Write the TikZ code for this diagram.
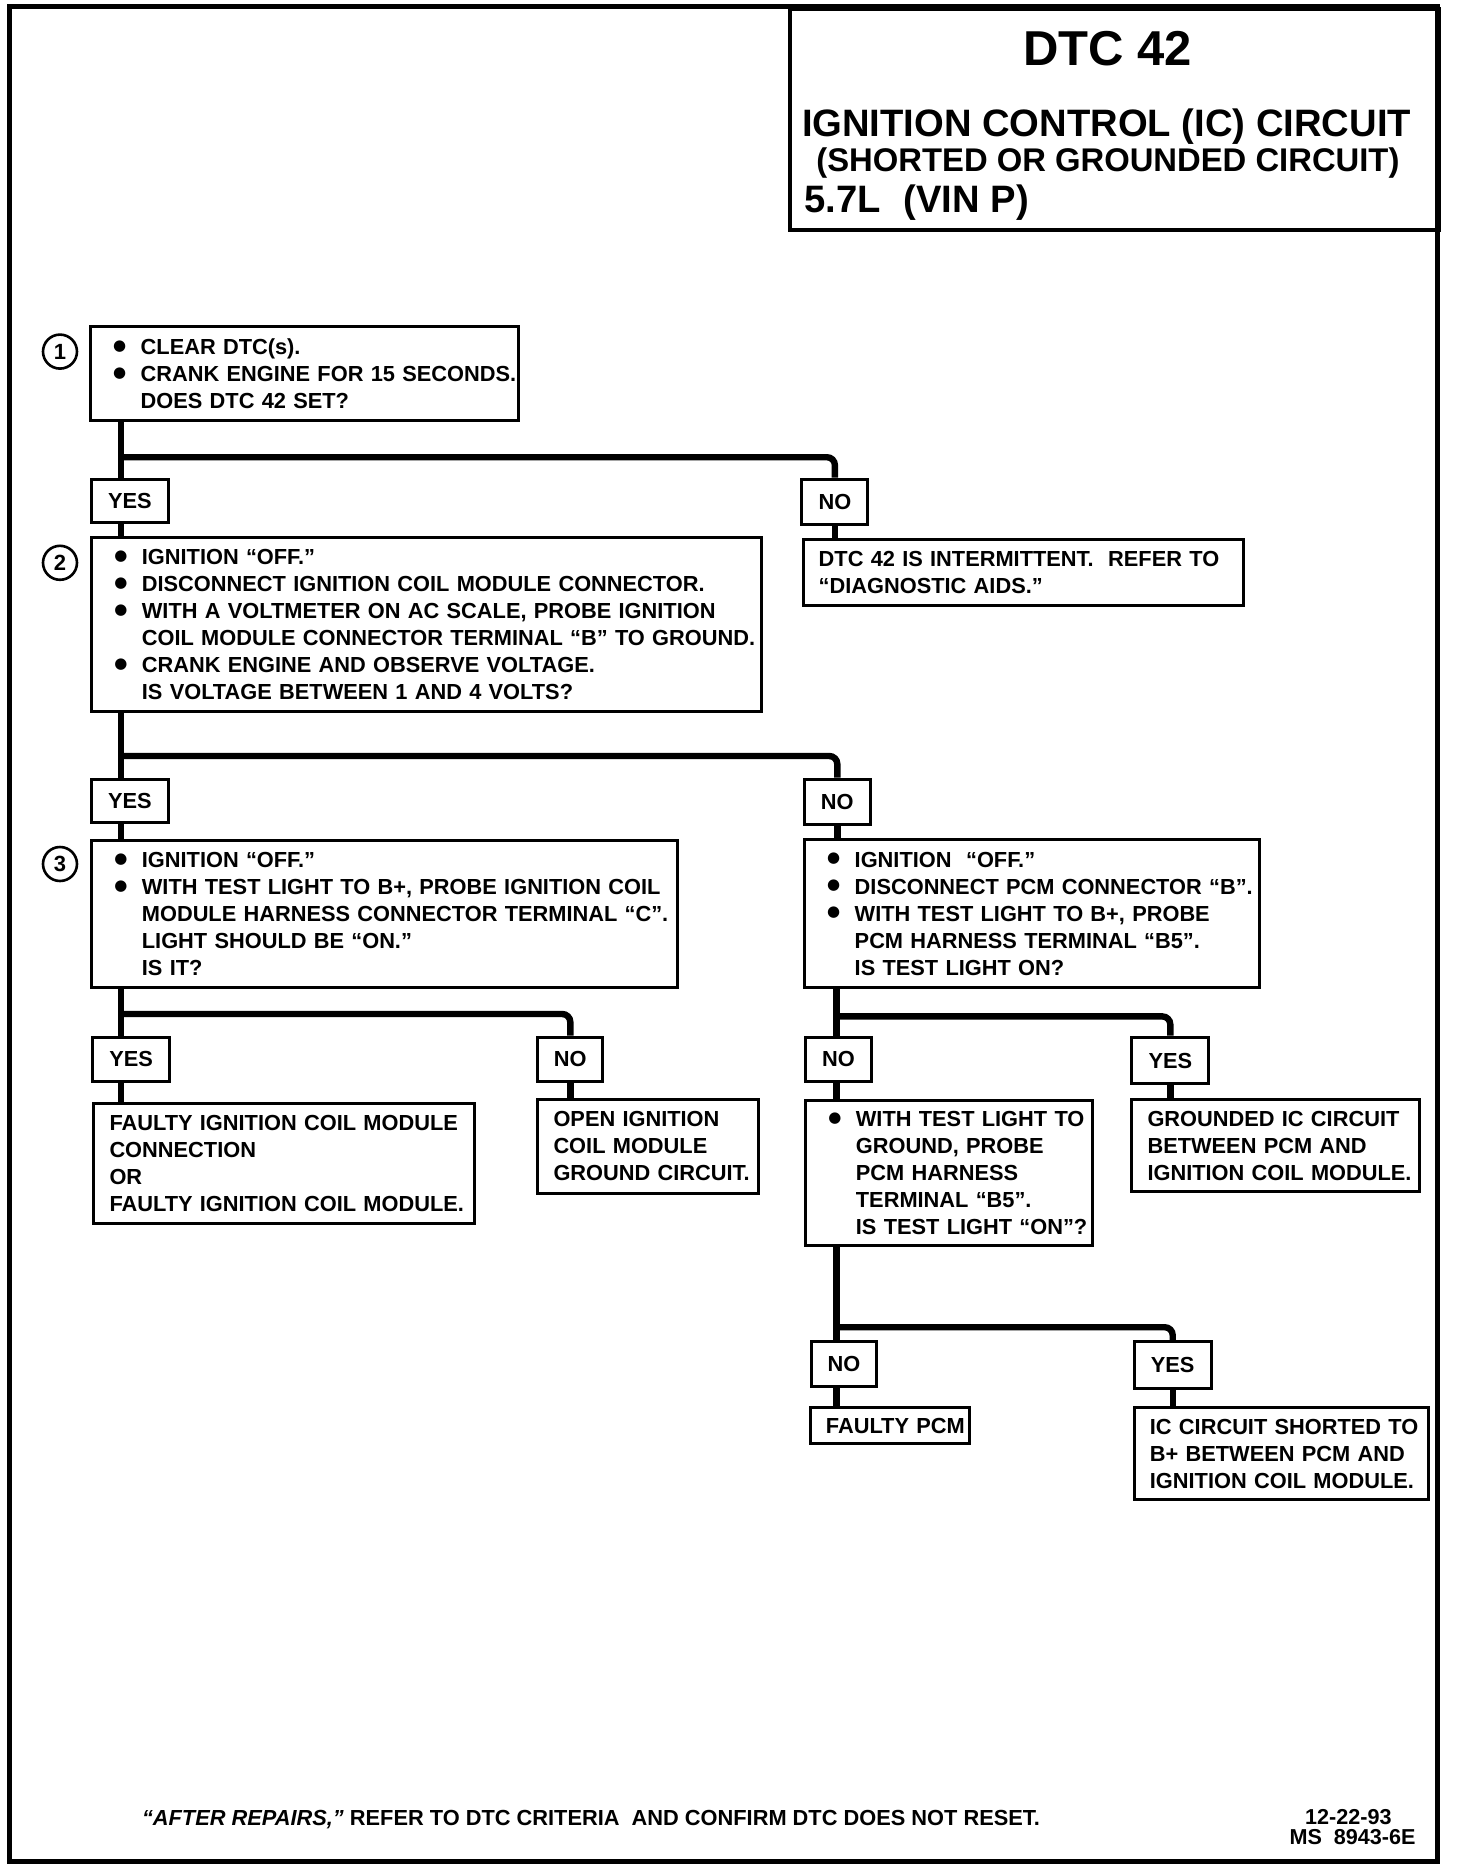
\documentclass[tikz,border=0pt]{standalone}
\usepackage{fontspec}
\setmainfont{Liberation Sans}
\newfontfamily\dejavu{DejaVu Sans}
\newcommand\boxfont{\fontsize{10.9pt}{13.5pt}\selectfont\bfseries}
\newcommand\bul{\makebox[13.8pt][l]{\raisebox{0.35ex}{\dejavu\fontsize{7.5pt}{7.5pt}\selectfont ●}}}
\newcommand\ind{\hspace*{13.8pt}}
\newcommand\bxb[1]{\leftskip=11.4pt\relax #1\par}
\newcommand\bxr[1]{\leftskip=7.8pt\relax #1\par}
\begin{document}
\begin{tikzpicture}[x=0.6pt,y=-0.6pt,
  box/.style={draw, line width=1.5pt, anchor=north west, inner xsep=0pt, inner ysep=0pt, align=left, font=\boxfont},
  lab/.style={draw, line width=1.5pt, anchor=north west, inner sep=0pt, font=\boxfont},
  conn/.style={line width=3.2pt, rounded corners=4pt},
  num/.style={circle, draw, line width=1.3pt, minimum size=17pt, inner sep=0pt, font=\fontsize{11pt}{11pt}\selectfont\bfseries},
  ttl/.style={inner sep=0pt}]
\useasboundingbox (0,0) rectangle (1213.33,1560);

% header
\node[draw, line width=1.8pt, anchor=north west, minimum width=324.3pt, minimum height=110.4pt, inner sep=0pt] (hdr) at (657,6) {};
\node[ttl, anchor=base, font=\fontsize{24.5pt}{24.5pt}\selectfont\bfseries] (t1) at (923,55) {DTC 42};
\node[ttl, anchor=base west, font=\fontsize{19.1pt}{19.1pt}\selectfont\bfseries] (t2) at (668,114) {IGNITION CONTROL (IC) CIRCUIT};
\node[ttl, anchor=base west, font=\fontsize{16.4pt}{16.4pt}\selectfont\bfseries] (t3) at (680,143) {(SHORTED OR GROUNDED CIRCUIT)};
\node[ttl, anchor=base west, font=\fontsize{19.1pt}{19.1pt}\selectfont\bfseries] (t4) at (670,177) {5.7L\hspace{0.6em}(VIN P)};

% step numbers
\node[num] (c1) at (50,293) {1};
\node[num] (c2) at (50,469) {2};
\node[num] (c3) at (50,720) {3};

% boxes
\node[box, text width=214.2pt, minimum height=46.8pt] (B1) at (74,271)
  {\bxb{\bul CLEAR DTC(s).\\\bul CRANK ENGINE FOR 15 SECONDS.\\\ind DOES DTC 42 SET?}};
\node[lab, minimum width=38.4pt, minimum height=21.6pt] (Y1) at (75,398) {YES};
\node[lab, minimum width=33pt, minimum height=22.8pt] (N1) at (667,398) {NO};
\node[box, text width=334.8pt, minimum height=87pt] (B2) at (75,447)
  {\bxb{\bul IGNITION “OFF.”\\\bul DISCONNECT IGNITION COIL MODULE CONNECTOR.\\\bul WITH A VOLTMETER ON AC SCALE, PROBE IGNITION\\\ind COIL MODULE CONNECTOR TERMINAL “B” TO GROUND.\\\bul CRANK ENGINE AND OBSERVE VOLTAGE.\\\ind IS VOLTAGE BETWEEN 1 AND 4 VOLTS?}};
\node[box, text width=220.2pt, minimum height=33pt] (R1) at (668,448)
  {\bxr{DTC 42 IS INTERMITTENT.\ \ REFER TO\\“DIAGNOSTIC AIDS.”}};
\node[lab, minimum width=38.4pt, minimum height=21.6pt] (Y2) at (75,648) {YES};
\node[lab, minimum width=33pt, minimum height=22.8pt] (N2) at (669,648) {NO};
\node[box, text width=292.8pt, minimum height=73.8pt] (B3) at (75,699)
  {\bxb{\bul IGNITION “OFF.”\\\bul WITH TEST LIGHT TO B+, PROBE IGNITION COIL\\\ind MODULE HARNESS CONNECTOR TERMINAL “C”.\\\ind LIGHT SHOULD BE “ON.”\\\ind IS IT?}};
\node[box, text width=227.4pt, minimum height=74.4pt] (B4) at (669,698)
  {\bxb{\bul IGNITION\ \ “OFF.”\\\bul DISCONNECT PCM CONNECTOR “B”.\\\bul WITH TEST LIGHT TO B+, PROBE\\\ind PCM HARNESS TERMINAL “B5”.\\\ind IS TEST LIGHT ON?}};
\node[lab, minimum width=38.4pt, minimum height=22.2pt] (Y3) at (76,863) {YES};
\node[lab, minimum width=32.4pt, minimum height=22.2pt] (N3) at (447,863) {NO};
\node[box, text width=190.2pt, minimum height=60pt] (R2) at (77,918)
  {\bxr{FAULTY IGNITION COIL MODULE\\CONNECTION\\OR\\FAULTY IGNITION COIL MODULE.}};
\node[box, text width=110.4pt, minimum height=46.8pt] (R3) at (447,915)
  {\bxr{OPEN IGNITION\\COIL MODULE\\GROUND CIRCUIT.}};
\node[lab, minimum width=33pt, minimum height=22.2pt] (N4) at (670,863) {NO};
\node[lab, minimum width=38.4pt, minimum height=23.4pt] (Y4) at (942,863) {YES};
\node[box, text width=143.4pt, minimum height=72.6pt] (B5) at (670,916)
  {\bxb{\bul WITH TEST LIGHT TO\\\ind GROUND, PROBE\\\ind PCM HARNESS\\\ind TERMINAL “B5”.\\\ind IS TEST LIGHT “ON”?}};
\node[box, text width=144pt, minimum height=46.2pt] (R4) at (942,915)
  {\bxr{GROUNDED IC CIRCUIT\\BETWEEN PCM AND\\IGNITION COIL MODULE.}};
\node[lab, minimum width=32.4pt, minimum height=22.2pt] (N5) at (675,1117) {NO};
\node[lab, minimum width=38.4pt, minimum height=23.4pt] (Y5) at (944,1117) {YES};
\node[box, text width=79.8pt, minimum height=18pt] (R5) at (674,1172)
  {\bxr{FAULTY PCM}};
\node[box, text width=147pt, minimum height=45.6pt] (R6) at (944,1172)
  {\bxr{IC CIRCUIT SHORTED TO\\B+ BETWEEN PCM AND\\IGNITION COIL MODULE.}};

% connectors
\coordinate (j1) at (101,381);
\coordinate (j2) at (101,630);
\coordinate (j3) at (101,845);
\coordinate (j4) at (697,847);
\coordinate (j5) at (697,1106);

\draw[conn] (B1.south -| j1) -- (Y1.north -| j1);
\draw[conn] (j1) -| (N1.north);
\draw[conn] (Y1.south -| j1) -- (B2.north -| j1);
\draw[conn] (N1.south) -- (R1.north -| N1.south);

\draw[conn] (B2.south -| j2) -- (Y2.north -| j2);
\draw[conn] (j2) -| (N2.north);
\draw[conn] (Y2.south -| j2) -- (B3.north -| j2);
\draw[conn] (N2.south) -- (B4.north -| N2.south);

\draw[conn] (B3.south -| j3) -- (Y3.north -| j3);
\draw[conn] (j3) -| (N3.north);
\draw[conn] (Y3.south -| j3) -- (R2.north -| j3);
\draw[conn] (N3.south) -- (R3.north -| N3.south);

\draw[conn] (B4.south -| j4) -- (N4.north -| j4);
\draw[conn] (j4) -| (Y4.north);
\draw[conn] (N4.south -| j4) -- (B5.north -| j4);
\draw[conn] (Y4.south) -- (R4.north -| Y4.south);

\draw[conn] (B5.south -| j5) -- (N5.north -| j5);
\draw[conn] (j5) -| (Y5.north);
\draw[conn] (N5.south -| j5) -- (R5.north -| j5);
\draw[conn] (Y5.south) -- (R6.north -| Y5.south);

% footer
\node[ttl, anchor=base west, font=\fontsize{10.9pt}{13pt}\selectfont\bfseries] (f1) at (118,1521)
  {\textit{“AFTER REPAIRS,”} REFER TO DTC CRITERIA\ \ AND CONFIRM DTC DOES NOT RESET.};
\node[ttl, anchor=base east, font=\fontsize{10.8pt}{10.8pt}\selectfont\bfseries] (f2) at (1160,1520) {12-22-93};
\node[ttl, anchor=base east, font=\fontsize{10.8pt}{10.8pt}\selectfont\bfseries] (f3) at (1180,1537) {MS\ \ 8943-6E};

% frame
\draw[line width=2.5pt] (8.3,5.8) rectangle (1197.5,1551);
\end{tikzpicture}
\end{document}
